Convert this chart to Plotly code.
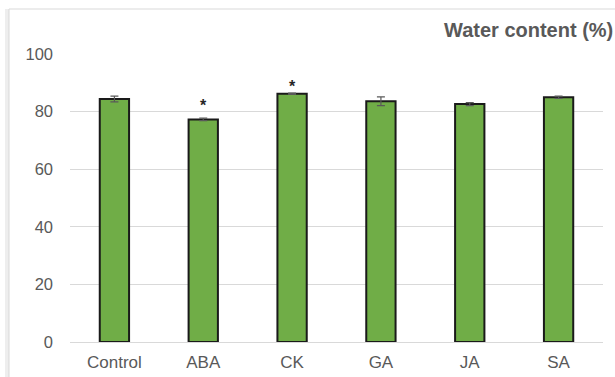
import plotly.graph_objects as go

# Water content of each treatment (mean and error)
treatments = ["Control", "ABA", "CK", "GA", "JA", "SA"]
water_content = [84.4, 77.3, 86.2, 83.6, 82.6, 85.0]
error = [1.0, 0.4, 0.2, 1.5, 0.5, 0.4]
significant = ["ABA", "CK"]
y_ticks = [0, 20, 40, 60, 80, 100]

GRAY_TEXT = "#595959"
FONT = "Liberation Sans, Arial, sans-serif"

fig = go.Figure()
fig.add_trace(go.Bar(
    x=treatments,
    y=water_content,
    width=0.33,
    marker=dict(color="#70ad47", line=dict(color="#1a1a1a", width=2)),
    error_y=dict(type="data", array=error, visible=True,
                 color="#595959", thickness=1.2, width=4),
))

# significance markers above the bars
star_shift = {"ABA": 14, "CK": 8}
for name in significant:
    i = treatments.index(name)
    fig.add_annotation(
        x=name, y=water_content[i] + error[i], text="<b>*</b>",
        showarrow=False, yanchor="bottom", yshift=star_shift[name] - 12,
        font=dict(family=FONT, size=16, color="#262626"),
    )

# chart title in the top right corner
fig.add_annotation(
    xref="paper", yref="paper", x=1.0 + 12 / 533, y=1 + 24 / 288,
    xanchor="right", yanchor="middle", text="<b>Water content (%)</b>",
    showarrow=False, font=dict(family=FONT, size=20, color=GRAY_TEXT),
)

# outer chart frame with a soft shadow on the left
fig.add_shape(type="line", xref="paper", yref="paper",
              x0=(7 - 70) / 533, x1=(7 - 70) / 533, y0=-0.2, y1=1 + 45 / 288,
              line=dict(color="#eeeeee", width=4), layer="below")
fig.add_shape(type="rect", xref="paper", yref="paper",
              x0=(9 - 70) / 533, x1=1.2, y0=-0.3, y1=1 + 45 / 288,
              line=dict(color="#d9d9d9", width=1), layer="below")

fig.update_layout(
    width=615, height=377,
    margin=dict(l=70, r=12, t=54, b=35),
    paper_bgcolor="white", plot_bgcolor="white",
    showlegend=False,
    bargap=0.6,
    xaxis=dict(
        automargin=False,
        showgrid=False, showline=True, linecolor="#d9d9d9", linewidth=1,
        ticks="", tickfont=dict(family=FONT, size=17, color=GRAY_TEXT),
        ticklabelstandoff=5,
    ),
    yaxis=dict(
        automargin=False,
        range=[0, 100], tickvals=y_ticks,
        showgrid=True, gridcolor="#d9d9d9", gridwidth=1,
        zeroline=False, showline=False, ticks="",
        tickfont=dict(family=FONT, size=16.5, color=GRAY_TEXT),
        ticklabelstandoff=16,
    ),
)

fig.write_html("out.html")
